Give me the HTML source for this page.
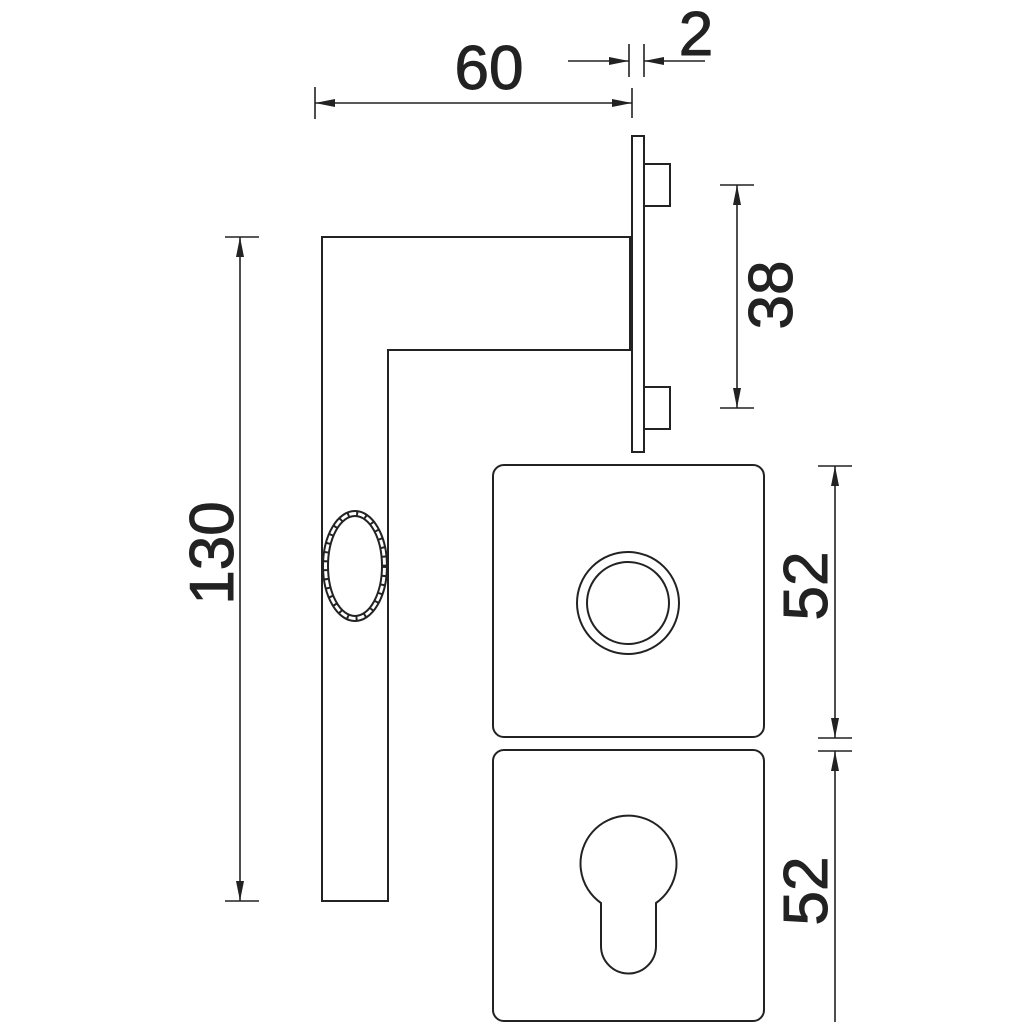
<!DOCTYPE html>
<html><head><style>html,body{margin:0;padding:0;background:#fff}</style></head>
<body>
<svg width="1024" height="1024" viewBox="0 0 1024 1024" xmlns="http://www.w3.org/2000/svg">
<defs>
<marker id="a" viewBox="0 0 20 8" refX="20" refY="4" markerWidth="20" markerHeight="8" markerUnits="userSpaceOnUse" orient="auto-start-reverse"><path d="M0,0 L20,4 L0,8 z" fill="#222"/></marker>
</defs>
<g fill="none" stroke="#222" stroke-width="2">
<path d="M322,237 H630 V350 H388 V901 H322 Z"/>
<rect x="632" y="136" width="12" height="316"/>
<rect x="644" y="164" width="26" height="42"/>
<rect x="644" y="387" width="26" height="42"/>
<ellipse cx="355" cy="566" rx="32" ry="55"/>
<ellipse cx="355" cy="566" rx="27" ry="50"/>
<ellipse cx="355" cy="566" rx="29.5" ry="52.5" stroke-width="4" stroke-dasharray="2 7"/>
<rect x="493" y="465" width="271" height="272" rx="11"/>
<rect x="493" y="750" width="271" height="271" rx="11"/>
<circle cx="628" cy="603" r="51"/>
<circle cx="628" cy="603" r="41"/>
<path d="M601,903 A48,48 0 1 1 656,903 V946 A27.5,27.5 0 0 1 601,946 Z"/>
</g>
<g stroke="#222" stroke-width="1.6" fill="none">
<line x1="315" y1="87" x2="315" y2="119"/>
<line x1="632" y1="88" x2="632" y2="118"/>
<line x1="315" y1="103" x2="632" y2="103" marker-start="url(#a)" marker-end="url(#a)"/>
<line x1="629" y1="44" x2="629" y2="77"/>
<line x1="644" y1="44" x2="644" y2="77"/>
<line x1="568" y1="61" x2="629" y2="61" marker-end="url(#a)"/>
<line x1="705" y1="61" x2="644" y2="61" marker-end="url(#a)"/>
<line x1="225" y1="237" x2="259" y2="237"/>
<line x1="225" y1="901" x2="259" y2="901"/>
<line x1="240" y1="237" x2="240" y2="901" marker-start="url(#a)" marker-end="url(#a)"/>
<line x1="720" y1="185" x2="754" y2="185"/>
<line x1="720" y1="408" x2="754" y2="408"/>
<line x1="737" y1="185" x2="737" y2="408" marker-start="url(#a)" marker-end="url(#a)"/>
<line x1="818" y1="466" x2="852" y2="466"/>
<line x1="818" y1="738" x2="852" y2="738"/>
<line x1="835" y1="466" x2="835" y2="738" marker-start="url(#a)" marker-end="url(#a)"/>
<line x1="818" y1="751" x2="852" y2="751"/>
<line x1="835" y1="751" x2="835" y2="1022" marker-start="url(#a)"/>
</g>
<g font-family="Liberation Sans, sans-serif" font-size="62" fill="#222" stroke="#222" stroke-width="1" text-anchor="middle">
<text x="489" y="89">60</text>
<text x="696" y="55">2</text>
<text transform="translate(233,553) rotate(-90)">130</text>
<text transform="translate(792,295) rotate(-90)">38</text>
<text transform="translate(827,586) rotate(-90)">52</text>
<text transform="translate(827,891) rotate(-90)">52</text>
</g>
</svg>
</body></html>
